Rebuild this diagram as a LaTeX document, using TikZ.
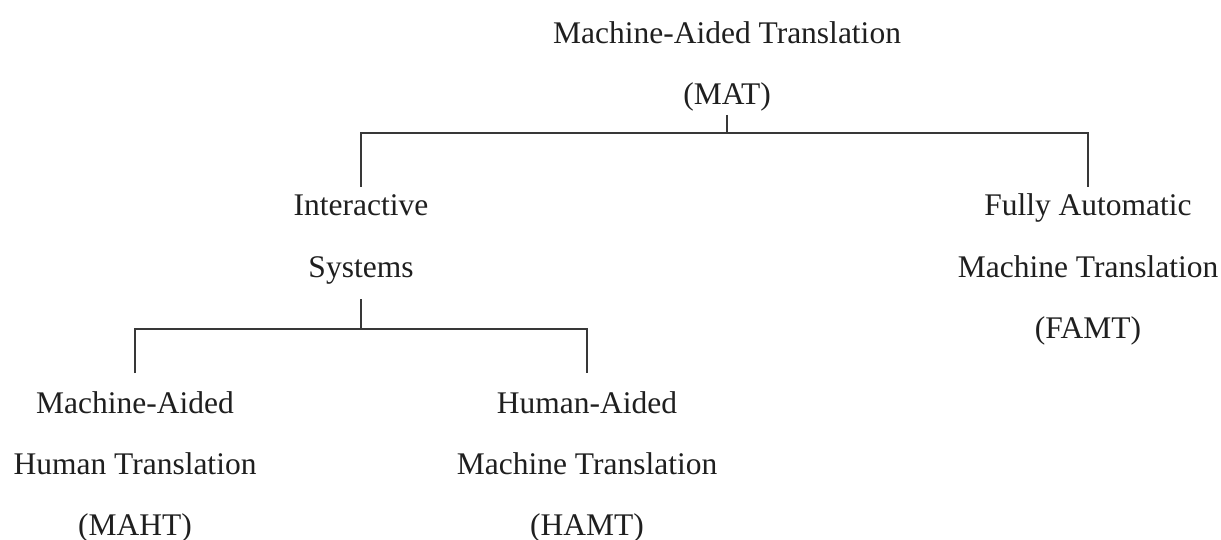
\documentclass[tikz,border=0pt]{standalone}
\usepackage{fontspec}
\setmainfont{Liberation Serif}
\begin{document}
\begin{tikzpicture}[x=1pt,y=-1pt,
  lbl/.style={anchor=base,inner sep=0pt,text=black!88,font=\fontsize{31.5}{38}\selectfont},
  conn/.style={draw=black!78,line width=1.5pt}]
\useasboundingbox[fill=white] (0,0) rectangle (1221,540);
% top
\node[lbl] (mat1) at (727,44) {Machine-Aided Translation};
\node[lbl] (mat2) at (727,105) {(MAT)};
% second level
\node[lbl] (int1) at (361,216) {Interactive};
\node[lbl] (int2) at (361,277) {Systems};
\node[lbl] (fa1) at (1088,216) {Fully Automatic};
\node[lbl] (fa2) at (1088,277) {Machine Translation};
\node[lbl] (fa3) at (1088,338) {(FAMT)};
% third level
\node[lbl] (ma1) at (135,413) {Machine-Aided};
\node[lbl] (ma2) at (135,474) {Human Translation};
\node[lbl] (ma3) at (135,535) {(MAHT)};
\node[lbl] (ha1) at (587,413) {Human-Aided};
\node[lbl] (ha2) at (587,474) {Machine Translation};
\node[lbl] (ha3) at (587,535) {(HAMT)};
% connectors
\draw[conn] (mat2.base |- 0,115) -- (mat2.base |- 0,133);
\draw[conn] (int1.base |- 0,187) -- (int1.base |- 0,133) -- (fa1.base |- 0,133) -- (fa1.base |- 0,187);
\draw[conn] (int2.base |- 0,299) -- (int2.base |- 0,329);
\draw[conn] (ma1.base |- 0,373) -- (ma1.base |- 0,329) -- (ha1.base |- 0,329) -- (ha1.base |- 0,373);
\end{tikzpicture}
\end{document}
